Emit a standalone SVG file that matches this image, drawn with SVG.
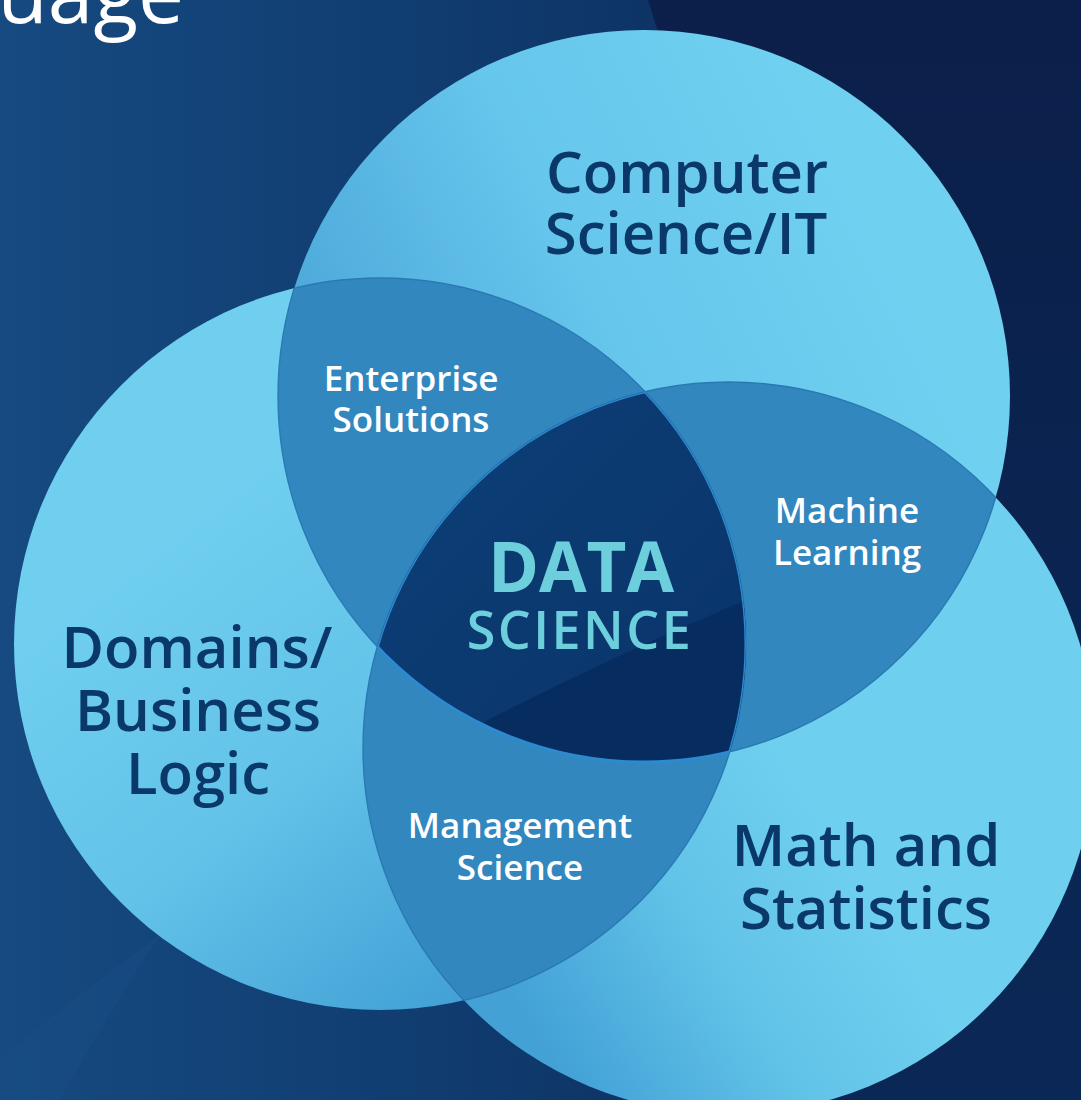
<svg xmlns="http://www.w3.org/2000/svg" width="1081" height="1100" viewBox="0 0 1081 1100">
  <defs>
    <linearGradient id="bg" x1="0" y1="0" x2="1081" y2="0" gradientUnits="userSpaceOnUse">
      <stop offset="0" stop-color="#164a80"/>
      <stop offset="0.35" stop-color="#113e72"/>
      <stop offset="0.6" stop-color="#0e3466"/>
      <stop offset="1" stop-color="#0a2250"/>
    </linearGradient>
    <linearGradient id="bgDark" x1="0" y1="0" x2="0" y2="1100" gradientUnits="userSpaceOnUse">
      <stop offset="0" stop-color="#0b1f4a"/>
      <stop offset="1" stop-color="#0a2856"/>
    </linearGradient>
    <linearGradient id="gT" x1="820" y1="140" x2="330" y2="380" gradientUnits="userSpaceOnUse">
      <stop offset="0" stop-color="#6fd0f0"/>
      <stop offset="0.5" stop-color="#66c6ec"/>
      <stop offset="1" stop-color="#4ea9db"/>
    </linearGradient>
    <linearGradient id="gL" x1="140" y1="560" x2="470" y2="990" gradientUnits="userSpaceOnUse">
      <stop offset="0" stop-color="#70cfef"/>
      <stop offset="0.5" stop-color="#62c2e8"/>
      <stop offset="1" stop-color="#43a1d6"/>
    </linearGradient>
    <linearGradient id="gR" x1="520" y1="1010" x2="820" y2="820" gradientUnits="userSpaceOnUse">
      <stop offset="0" stop-color="#43a1d6"/>
      <stop offset="0.55" stop-color="#62c3e8"/>
      <stop offset="1" stop-color="#6fcfef"/>
    </linearGradient>
    <linearGradient id="gC" x1="420" y1="450" x2="740" y2="760" gradientUnits="userSpaceOnUse">
      <stop offset="0" stop-color="#0c3e75"/>
      <stop offset="1" stop-color="#09336a"/>
    </linearGradient>
    <clipPath id="clipT"><circle cx="644" cy="396" r="366"/></clipPath>
    <clipPath id="clipL"><circle cx="380" cy="644" r="366"/></clipPath>
    <clipPath id="clipR"><circle cx="729" cy="748" r="366"/></clipPath>
    <style>
      .circ { font-family: "Open Sans", "Liberation Sans", sans-serif; font-weight: 600; font-size: 58px; fill: #0a3869; text-anchor: middle; }
      .pair { font-family: "Open Sans", "Liberation Sans", sans-serif; font-weight: 600; font-size: 35px; fill: #ffffff; text-anchor: middle; }
      .ds { font-family: "Open Sans", "Liberation Sans", sans-serif; fill: #6dcfdc; text-anchor: middle; }
      .pairfill { fill: #3287bf; }
      .edge { fill: none; stroke: #2a79b2; stroke-width: 1.4; }
    </style>
  </defs>

  <!-- background -->
  <rect x="0" y="0" width="1081" height="1100" fill="url(#bg)"/>
  <path d="M 648 0 C 680 100 720 250 760 420 C 800 650 760 900 680 1100 L 1081 1100 L 1081 0 Z" fill="url(#bgDark)"/>
  <path d="M 0 1100 L 0 1060 Q 70 1000 160 935 Q 110 1010 60 1100 Z" fill="#1a5088" opacity="0.35"/>
  <text x="184" y="23" font-family="Open Sans, Liberation Sans, sans-serif" font-weight="400" font-size="82" fill="#ffffff" text-anchor="end">uage</text>

  <!-- outer circles -->
  <g id="circle-computer-science">
    <circle cx="644" cy="396" r="366" fill="url(#gT)"/>
  </g>
  <g id="circle-domains">
    <circle cx="380" cy="644" r="366" fill="url(#gL)"/>
  </g>
  <g id="circle-math">
    <circle cx="729" cy="748" r="366" fill="url(#gR)"/>
  </g>

  <!-- pairwise overlaps -->
  <g id="overlap-enterprise-solutions">
    <circle cx="644" cy="396" r="366" class="pairfill" clip-path="url(#clipL)"/>
    <circle cx="644" cy="396" r="366" class="edge" clip-path="url(#clipL)"/>
    <circle cx="380" cy="644" r="366" class="edge" clip-path="url(#clipT)"/>
  </g>
  <g id="overlap-machine-learning">
    <circle cx="644" cy="396" r="366" class="pairfill" clip-path="url(#clipR)"/>
    <circle cx="644" cy="396" r="366" class="edge" clip-path="url(#clipR)"/>
    <circle cx="729" cy="748" r="366" class="edge" clip-path="url(#clipT)"/>
  </g>
  <g id="overlap-management-science">
    <circle cx="380" cy="644" r="366" class="pairfill" clip-path="url(#clipR)"/>
    <circle cx="380" cy="644" r="366" class="edge" clip-path="url(#clipR)"/>
    <circle cx="729" cy="748" r="366" class="edge" clip-path="url(#clipL)"/>
  </g>

  <!-- centre -->
  <g id="data-science">
    <g clip-path="url(#clipL)">
      <g clip-path="url(#clipR)">
        <circle cx="644" cy="396" r="366" fill="url(#gC)"/>
        <path d="M 440 745 Q 600 660 770 590 L 790 800 L 440 800 Z" fill="#072c5e" opacity="0.85" clip-path="url(#clipT)"/>
        <circle cx="644" cy="396" r="366" fill="none" stroke="#2c8ad0" stroke-width="3"/>
        <circle cx="380" cy="644" r="366" fill="none" stroke="#2c8ad0" stroke-width="3" clip-path="url(#clipT)"/>
        <circle cx="729" cy="748" r="366" fill="none" stroke="#2c8ad0" stroke-width="3" clip-path="url(#clipT)"/>
      </g>
    </g>
    <text class="ds" x="581" y="592" font-weight="700" font-size="69">DATA</text>
    <text class="ds" x="580" y="649" font-weight="600" font-size="52" letter-spacing="2.5">SCIENCE</text>
  </g>

  <!-- labels -->
  <g id="labels">
    <text class="circ" x="687" y="193">Computer</text>
    <text class="circ" x="686" y="254">Science/IT</text>
    <text class="circ" x="197" y="668">Domains/</text>
    <text class="circ" x="198" y="731">Business</text>
    <text class="circ" x="198" y="794">Logic</text>
    <text class="circ" x="866" y="866">Math and</text>
    <text class="circ" x="866" y="929">Statistics</text>
    <text class="pair" x="411" y="391">Enterprise</text>
    <text class="pair" x="411" y="432">Solutions</text>
    <text class="pair" x="847" y="523">Machine</text>
    <text class="pair" x="847" y="565">Learning</text>
    <text class="pair" x="520" y="838">Management</text>
    <text class="pair" x="520" y="880">Science</text>
  </g>
</svg>
